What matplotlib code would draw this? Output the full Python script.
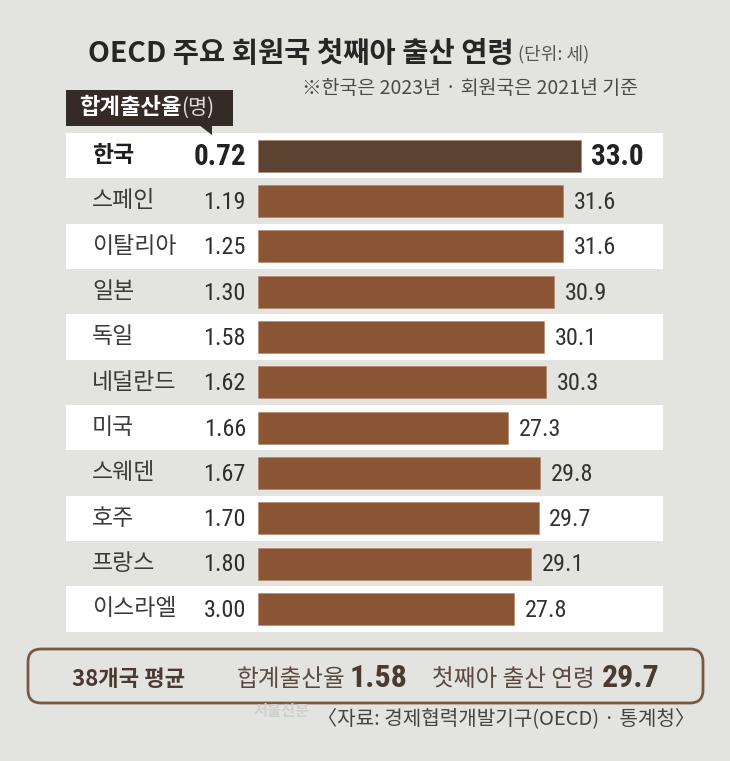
import matplotlib
matplotlib.use("Agg")
import matplotlib.pyplot as plt
from matplotlib import font_manager as fm
from matplotlib.patches import FancyBboxPatch, Rectangle, Polygon

# ---------------- data ----------------
countries = ['한국', '스페인', '이탈리아', '일본', '독일', '네덜란드', '미국', '스웨덴', '호주', '프랑스', '이스라엘']
fertility = [0.72, 1.19, 1.25, 1.30, 1.58, 1.62, 1.66, 1.67, 1.70, 1.80, 3.00]
first_birth_age = [33.0, 31.6, 31.6, 30.9, 30.1, 30.3, 27.3, 29.8, 29.7, 29.1, 27.8]
avg_label = '38개국 평균'
avg_fertility = 1.58
avg_age = 29.7

title = 'OECD 주요 회원국 첫째아 출산 연령'
unit = '(단위: 세)'
note = '※한국은 2023년 · 회원국은 2021년 기준'
source = '〈자료: 경제협력개발기구(OECD) · 통계청〉'

# ---------------- style ----------------
BG = '#e3e3e0'
BAR = '#8a5535'
BAR_KR = '#5c4230'
KR = ['Noto Sans CJK KR', 'DejaVu Sans']


def pick(cands):
    for c in cands:
        try:
            fm.findfont(fm.FontProperties(family=c), fallback_to_default=False)
            return c
        except Exception:
            continue
    return 'DejaVu Sans'


NUM = [pick(['Liberation Sans Narrow', 'DejaVu Sans Condensed', 'Roboto Condensed', 'Liberation Sans']), 'DejaVu Sans']

W, H = 730, 761
fig = plt.figure(figsize=(W / 100, H / 100), dpi=100)
fig.patch.set_facecolor(BG)

# data axes (rows panel)
row_top, pitch, n = 133, 45.33, len(countries)
left_px, right_px = 66, 663
ax = fig.add_axes([left_px / W, 1 - (row_top + pitch * n) / H,
                   (right_px - left_px) / W, pitch * n / H])
ax.set_zorder(1)
ax.patch.set_alpha(0)
px_per_unit, zero_px = 12.8, 158.6
ax.set_xlim((left_px - zero_px) / px_per_unit, (right_px - zero_px) / px_per_unit)
ax.set_ylim(n - 0.5, -0.5)
ax.axis('off')

BASE = (258 - zero_px) / px_per_unit
ys = list(range(n))
for i in ys:
    if i % 2 == 0:
        ax.axhspan(i - 0.5, i + 0.5, color='white', zorder=0, lw=0)
colors = [BAR_KR if i == 0 else BAR for i in ys]
ax.barh(ys, [a - BASE for a in first_birth_age], left=BASE, height=0.7,
        color=colors, edgecolor='#b08060', linewidth=0.4, zorder=2)

yt = ax.get_yaxis_transform()
name_x = (92 - left_px) / (right_px - left_px)
num_x = (246 - left_px) / (right_px - left_px)
for i, (c, f, a) in enumerate(zip(countries, fertility, first_birth_age)):
    bold = (i == 0)
    ax.text(name_x, i, c, transform=yt, ha='left', va='center',
            family=KR, fontsize=16.5, fontweight='bold' if bold else 'normal',
            color='#1e1e1e' if bold else '#3a3a3a')
    ax.text(num_x, i + 0.03, f'{f:.2f}', transform=yt, ha='right', va='center',
            family=NUM, fontsize=21 if bold else 17.5,
            fontweight='bold' if bold else 'normal', color='#222' if bold else '#2e2e2e')
    ax.text(a + 0.82, i + 0.03, f'{a:.1f}', ha='left', va='center',
            family=NUM, fontsize=21 if bold else 17.5,
            fontweight='bold' if bold else 'normal', color='#222' if bold else '#333')

# decoration layer in pixel coordinates
deco = fig.add_axes([0, 0, 1, 1])
deco.set_zorder(2)
deco.patch.set_alpha(0)
deco.set_xlim(0, W)
deco.set_ylim(H, 0)
deco.axis('off')

tt = deco.text(88, 54, title, ha='left', va='center', family=KR, fontsize=20.5,
               fontweight='bold', color='#262626')
deco.annotate(unit, xy=(1, 0.5), xycoords=tt, xytext=(3, 0), textcoords='offset points',
              ha='left', va='center', family=KR, fontsize=13, color='#555')
deco.text(638, 88, note, ha='right', va='center', family=KR, fontsize=14, color='#4a4a4a')

# label box
deco.add_patch(Rectangle((66, 90), 167, 36, facecolor='#352b26', edgecolor='none'))
deco.add_patch(Polygon([(199, 125), (212, 125), (212, 135)], closed=True,
                       facecolor='#352b26', edgecolor='none'))
t1 = deco.text(79, 108, '합계출산율', ha='left', va='center', family=KR,
               fontsize=16, fontweight='bold', color='white')
deco.annotate('(명)', xy=(1, 0.5), xycoords=t1, xytext=(0, 0), textcoords='offset points',
              ha='left', va='center', family=KR, fontsize=15, color='#dddddd')

# bottom summary box
deco.add_patch(FancyBboxPatch((28, 649), 675, 54, boxstyle='round,pad=0,rounding_size=13',
                              facecolor='none', edgecolor='#7a5843', linewidth=2.0))
base_y = 686
deco.text(72, base_y, avg_label, ha='left', va='baseline', family=KR, fontsize=16,
          fontweight='bold', color='#4a3a30')
deco.text(237, base_y, '합계출산율', ha='left', va='baseline', family=KR, fontsize=17,
          color='#5a4a40')
deco.text(350, base_y + 1, f'{avg_fertility:.2f}', ha='left', va='baseline', family=NUM,
          fontsize=23, fontweight='bold', color='#4a3a30')
deco.text(432, base_y, '첫째아 출산 연령', ha='left', va='baseline', family=KR, fontsize=17,
          color='#5a4a40')
deco.text(602, base_y + 1, f'{avg_age:.1f}', ha='left', va='baseline', family=NUM,
          fontsize=23, fontweight='bold', color='#4a3a30')

# watermark and source
deco.text(254, 711, '서울신문', ha='left', va='center', family=KR, fontsize=11,
          fontweight='bold', color='#cfcfcc', zorder=1)
deco.text(695, 719, source, ha='right', va='center', family=KR, fontsize=14.5,
          color='#444444', zorder=2)

fig.savefig('out.png', dpi=100, facecolor=BG)
